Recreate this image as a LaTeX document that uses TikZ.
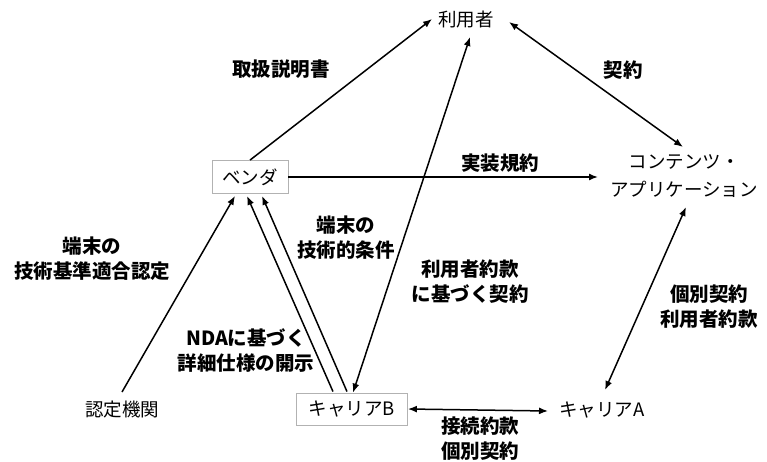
\documentclass[tikz,border=0pt]{standalone}
\usepackage{fontspec}
\setmainfont{Noto Sans CJK JP}
\usetikzlibrary{arrows.meta,calc}
\begin{document}
\begin{tikzpicture}[x=1pt,y=-1pt,
  ent/.style={inner sep=2pt,font=\fontsize{18.5}{28}\selectfont,align=center},
  boxed/.style={ent,draw=black!30,line width=0.8pt,minimum height=33pt},
  lbl/.style={inner sep=0pt,font=\bfseries\fontsize{19.5}{25}\selectfont,align=center},
  conn/.style={line width=1.5pt,-{Latex[length=9pt,width=7pt]}},
  bconn/.style={line width=1.5pt,{Latex[length=9pt,width=7pt]}-{Latex[length=9pt,width=7pt]}}]
\useasboundingbox (0,0) rectangle (767,462);
% entities
\node[ent] (user) at (466,20) {利用者};
\node[boxed,minimum width=76pt] (vendor) at (250,177) {ベンダ};
\node[ent] (content) at (684,176) {コンテンツ・\\アプリケーション};
\node[ent] (nintei) at (122,410) {認定機関};
\node[boxed,minimum width=111pt,minimum height=32pt] (carB) at (352,409) {キャリアB};
\node[ent] (carA) at (602,410) {キャリアA};
% connectors
\draw[conn] (vendor.north) -- ($(user)+(-34,-1)$);
\draw[bconn] ($(user)+(43,2)$) -- ($(content)+(-1,-29)$);
\draw[bconn] ($(user)+(4,17)$) -- ($(carB.north)+(1,0)$);
\draw[conn] (vendor.east) -- ($(content)+(-86,1)$);
\draw[conn] ($(nintei)+(0,-18)$) -- ($(vendor.south)+(-15,2)$);
\draw[conn] ($(carB.north)+(-19,-1)$) -- ($(vendor.south)+(-3,2)$);
\draw[conn] ($(carB.north)+(-5,-1)$) -- ($(vendor.south)+(12,2)$);
\draw[bconn] ($(content)+(2,31)$) -- ($(carA)+(3,-20)$);
\draw[bconn] (carB.east) -- ($(carA)+(-54,1)$);
% labels
\node[lbl] (l1) at (281,69) {取扱説明書};
\node[lbl] (l2) at (623,70) {契約};
\node[lbl] (l3) at (500,163) {実装規約};
\node[lbl] (l4) at (92,259) {端末の\\技術基準適合認定};
\node[lbl] (l5) at (346,238) {端末の\\技術的条件};
\node[lbl] (l6) at (246,351) {NDAに基づく\\詳細仕様の開示};
\node[lbl] (l7) at (470,282) {利用者約款\\に基づく契約};
\node[lbl] (l8) at (709,307) {個別契約\\利用者約款};
\node[lbl] (l9) at (480,439) {接続約款\\個別契約};
\end{tikzpicture}
\end{document}
